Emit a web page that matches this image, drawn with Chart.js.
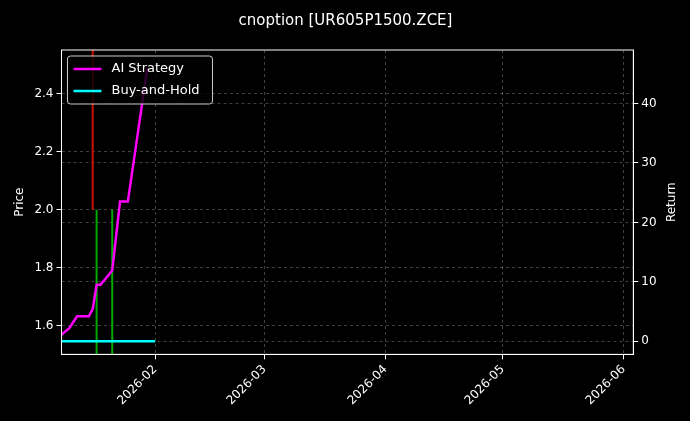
<!DOCTYPE html>
<html>
<head>
<script src="https://cdn.jsdelivr.net/npm/chart.js@4"></script>
<style>
  html, body { margin: 0; background: #000; }
  #wrap { width: 690px; height: 421px; }
</style>
</head>
<body>
<div id="wrap"><canvas id="c"></canvas></div>
<script>
const DAY = 86400000;
const d = s => Date.parse(s + 'T00:00:00Z');

// AI strategy return (right axis)
const aiDates = ['2026-01-08', '2026-01-10', '2026-01-12', '2026-01-15', '2026-01-16', '2026-01-17', '2026-01-18', '2026-01-21', '2026-01-23', '2026-01-25', '2026-01-30'];
const aiReturn = [1.1, 2.2, 4.2, 4.2, 5.4, 9.5, 9.5, 11.9, 23.5, 23.5, 46.0];

// Buy-and-hold return
const bhDates = ['2026-01-08', '2026-02-01'];
const bhReturn = [0, 0];

// trade markers (price axis)
const sellDates = ['2026-01-16'];
const buyDates = ['2026-01-17', '2026-01-21'];
const tradePrice = 2.0;

const monthTicks = ['2026-02-01', '2026-03-01', '2026-04-01', '2026-05-01', '2026-06-01'];
const monthLabels = ['2026-02', '2026-03', '2026-04', '2026-05', '2026-06'];

const vline = (date, y0, y1, color) => ({
  label: '', data: [{ x: d(date), y: y0 }, { x: d(date), y: y1 }],
  borderColor: color, borderWidth: 2, pointRadius: 0, yAxisID: 'y'
});

const datasets = [
  { label: 'AI Strategy', data: aiDates.map((t, i) => ({ x: d(t), y: aiReturn[i] })),
    borderColor: '#ff00ff', backgroundColor: '#ff00ff', borderWidth: 2.5, pointRadius: 0, yAxisID: 'y1' },
  { label: 'Buy-and-Hold', data: bhDates.map((t, i) => ({ x: d(t), y: bhReturn[i] })),
    borderColor: '#00ffff', backgroundColor: '#00ffff', borderWidth: 2.5, pointRadius: 0, yAxisID: 'y1' },
  ...sellDates.map(t => vline(t, tradePrice, 2.6, '#cc1100')),
  ...buyDates.map(t => vline(t, 1.45, tradePrice, '#00aa00'))
];

const gridCol = 'rgba(255,255,255,0.25)';
const font = { family: 'DejaVu Sans', size: 12 };
new Chart(document.getElementById('c'), {
  type: 'line',
  data: { datasets },
  options: {
    responsive: true, maintainAspectRatio: false, animation: false,
    layout: { padding: { top: 4, right: 8, left: 9, bottom: 0 } },
    plugins: {
      title: { display: true, text: 'cnoption [UR605P1500.ZCE]', color: '#fff',
        font: { family: 'DejaVu Sans', size: 15, weight: 'normal' }, padding: { top: 8, bottom: 20 } },
      legend: { display: false },
      tooltip: { enabled: false }
    },
    scales: {
      x: {
        type: 'linear', min: d('2026-01-08'), max: d('2026-06-03') + DAY / 2,
        afterBuildTicks: ax => { ax.ticks = monthTicks.map(t => ({ value: d(t) })); },
        afterFit: ax => { ax.height += 10; },
        ticks: { color: '#fff', font, maxRotation: 45, minRotation: 45,
          callback: (v) => monthLabels[monthTicks.findIndex(t => d(t) === v)] },
        grid: { color: gridCol, tickColor: '#fff', tickLength: 5 },
        border: { color: '#fff', dash: [3, 3] }
      },
      y: {
        position: 'left', min: 1.502, max: 2.55,
        afterBuildTicks: ax => { ax.ticks = [1.6, 1.8, 2.0, 2.2, 2.4].map(v => ({ value: v })); },
        title: { display: true, text: 'Price', color: '#fff', font },
        ticks: { color: '#fff', font, callback: v => v.toFixed(1) },
        grid: { color: gridCol, tickColor: '#fff', tickLength: 5 },
        border: { color: '#fff', dash: [3, 3] }
      },
      y1: {
        position: 'right', min: -2.2, max: 49,
        afterBuildTicks: ax => { ax.ticks = [0, 10, 20, 30, 40].map(v => ({ value: v })); },
        title: { display: true, text: 'Return', color: 'rgba(0,0,0,0)', font },
        ticks: { color: '#fff', font },
        grid: { color: gridCol, tickColor: '#fff', tickLength: 5 },
        border: { color: '#fff', dash: [3, 3] }
      }
    }
  },
  plugins: [{
    id: 'legendBox',
    afterDraw(chart) {
      const { ctx, chartArea: a } = chart;
      ctx.save();
      // frame
      ctx.strokeStyle = '#fff'; ctx.lineWidth = 1;
      ctx.strokeRect(a.left, a.top, a.right - a.left, a.bottom - a.top);
      // right axis title (reads bottom to top)
      ctx.fillStyle = '#fff'; ctx.font = '12px DejaVu Sans';
      ctx.textAlign = 'center'; ctx.textBaseline = 'middle';
      ctx.translate(chart.scales.y1.right - 10, (a.top + a.bottom) / 2);
      ctx.rotate(-Math.PI / 2);
      ctx.fillText('Return', 0, 0);
      ctx.setTransform(1, 0, 0, 1, 0, 0);
      ctx.scale(chart.currentDevicePixelRatio, chart.currentDevicePixelRatio);
      // legend
      const x = a.left + 6, y = a.top + 6, w = 145, h = 48;
      ctx.fillStyle = 'rgba(0,0,0,0.8)';
      ctx.strokeStyle = '#ccc';
      ctx.beginPath(); ctx.roundRect(x, y, w, h, 3); ctx.fill(); ctx.stroke();
      ctx.font = '13px DejaVu Sans'; ctx.textAlign = 'left';
      datasets.slice(0, 2).forEach((ds, i) => {
        const yy = y + 13 + i * 22;
        ctx.strokeStyle = ds.borderColor; ctx.lineWidth = 2.5;
        ctx.beginPath(); ctx.moveTo(x + 6, yy); ctx.lineTo(x + 34, yy); ctx.stroke();
        ctx.fillStyle = '#fff'; ctx.fillText(ds.label, x + 44, yy);
      });
      ctx.restore();
    }
  }]
});
</script>
</body>
</html>
